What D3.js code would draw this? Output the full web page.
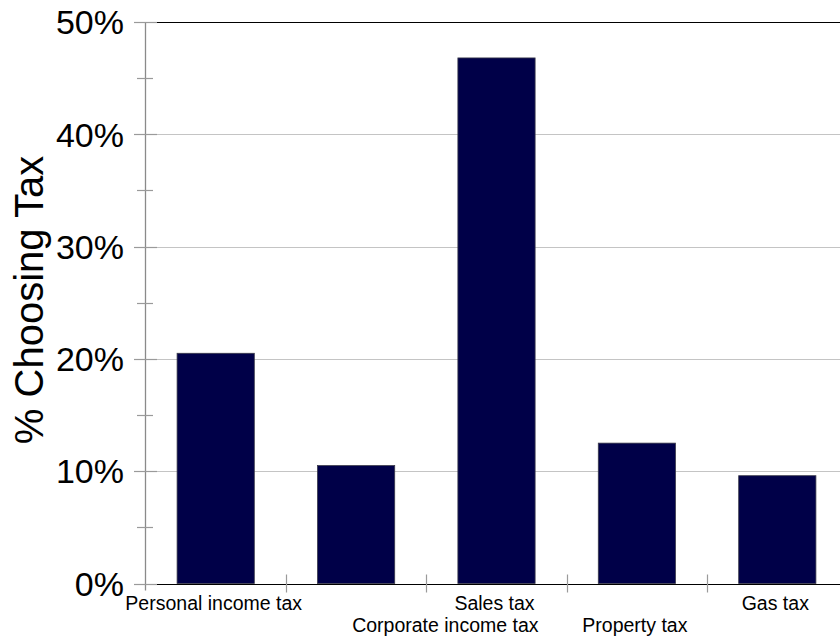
<!DOCTYPE html>
<html>
<head>
<meta charset="utf-8">
<script src="https://cdn.jsdelivr.net/npm/d3@7"></script>
<style>
  html, body { margin: 0; padding: 0; background: #fff; }
  svg { display: block; font-family: "Liberation Sans", Arial, sans-serif; }
</style>
</head>
<body>
<svg id="chart" width="840" height="639"></svg>
<script>
// Share of respondents choosing each tax
const categories = ["Personal income tax", "Corporate income tax", "Sales tax", "Property tax", "Gas tax"];
const shares = [20.5, 10.5, 46.8, 12.5, 9.6];
const yTicks = [0, 10, 20, 30, 40, 50];
const yMinorTicks = [5, 15, 25, 35, 45];
const yTitle = "% Choosing Tax";

const svg = d3.select("#chart");
const plotLeft = 145.5, plotRight = 847.5, plotTop = 22, plotBottom = 583.5;

const x = d3.scaleBand().domain(categories).range([plotLeft, plotRight]).paddingInner(0.45).paddingOuter(0.225);
const xStep = d3.scaleBand().domain(categories).range([plotLeft, plotRight]).padding(0);
const y = d3.scaleLinear().domain([0, 50]).range([plotBottom, plotTop]);

// horizontal gridlines (the top one is drawn black like the baseline)
svg.append("g").selectAll("line").data(yTicks.filter(d => d > 0 && d < 50)).join("line")
  .attr("x1", plotLeft).attr("x2", 840)
  .attr("y1", d => Math.round(y(d)) + 0.5).attr("y2", d => Math.round(y(d)) + 0.5)
  .attr("stroke", "#c4c4c4").attr("stroke-width", 1.2);

svg.append("g").selectAll("line").data([0, 50]).join("line")
  .attr("x1", 156).attr("x2", 840)
  .attr("y1", d => Math.round(y(d)) + 0.5).attr("y2", d => Math.round(y(d)) + 0.5)
  .attr("stroke", "#000").attr("stroke-width", 1.2);

// bars
svg.append("g").selectAll("rect").data(categories).join("rect")
  .attr("x", d => x(d))
  .attr("width", x.bandwidth())
  .attr("y", (d, i) => y(shares[i]))
  .attr("height", (d, i) => y(0) - y(shares[i]))
  .attr("fill", "#000048")
  .attr("stroke", "#3a3a4a").attr("stroke-width", 0.8);

// y axis line with major and minor ticks
const axisG = svg.append("g");
axisG.append("line").attr("x1", plotLeft).attr("x2", plotLeft).attr("y1", plotTop).attr("y2", plotBottom + 7)
  .attr("stroke", "#8a8a8a").attr("stroke-width", 1.3);
axisG.selectAll(".major").data(yTicks).join("line").attr("class", "major")
  .attr("x1", 134).attr("x2", 157)
  .attr("y1", d => Math.round(y(d)) + 0.5).attr("y2", d => Math.round(y(d)) + 0.5)
  .attr("stroke", "#9a9a9a").attr("stroke-width", 1.2);
axisG.selectAll(".minor").data(yMinorTicks).join("line").attr("class", "minor")
  .attr("x1", 137).attr("x2", 153)
  .attr("y1", d => Math.round(y(d)) + 0.5).attr("y2", d => Math.round(y(d)) + 0.5)
  .attr("stroke", "#9a9a9a").attr("stroke-width", 1.2);

// y tick labels
axisG.selectAll("text").data(yTicks).join("text")
  .attr("x", 124).attr("y", d => y(d))
  .attr("dy", "0.36em")
  .attr("text-anchor", "end")
  .attr("font-size", 34)
  .attr("fill", "#000")
  .text(d => d + "%");

// x category separators
svg.append("g").selectAll("line").data(categories.slice(1)).join("line")
  .attr("x1", d => Math.round(xStep(d)) + 0.5).attr("x2", d => Math.round(xStep(d)) + 0.5)
  .attr("y1", plotBottom - 9).attr("y2", plotBottom + 9)
  .attr("stroke", "#9a9a9a").attr("stroke-width", 1.2);

// x labels, staggered in two rows; the long second label sits shifted right
const labelShift = [0, 0.65, 0, 0, 0];
svg.append("g").selectAll("text").data(categories).join("text")
  .attr("x", (d, i) => x(d) + x.bandwidth() / 2 - 2 + labelShift[i] * xStep.step())
  .attr("y", (d, i) => i % 2 === 0 ? 610 : 632)
  .attr("text-anchor", "middle")
  .attr("font-size", 19.5)
  .attr("fill", "#000")
  .text(d => d);

// y axis title
svg.append("text")
  .attr("transform", `translate(43, 300) rotate(-90)`)
  .attr("text-anchor", "middle")
  .attr("font-size", 40)
  .attr("fill", "#000")
  .text(yTitle);
</script>
</body>
</html>
